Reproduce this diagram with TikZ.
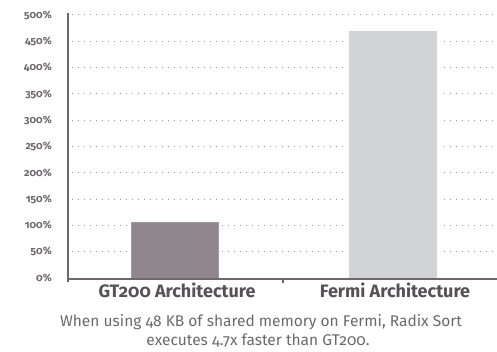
\documentclass[tikz,border=0pt]{standalone}
\usepackage{fontspec}
\setmainfont{Fira Sans}[Numbers=OldStyle]
\definecolor{axisc}{HTML}{6E666B}
\definecolor{labc}{HTML}{6E666B}
\definecolor{catc}{HTML}{575155}
\definecolor{capc}{HTML}{6A6A6A}
\definecolor{gridc}{HTML}{9A9A9A}
\definecolor{barA}{HTML}{8F878C}
\definecolor{barB}{HTML}{D2D3D5}
\tikzset{
  gridline/.style={gridc, line width=1pt, dash pattern=on 1pt off 5pt},
  ticklab/.style={anchor=east, text=labc, font=\bfseries\fontsize{10.5}{12}\selectfont, inner sep=0pt},
  catlab/.style={anchor=base, text=catc, font=\bfseries\fontsize{18}{20}\selectfont, inner sep=0pt},
  caplab/.style={anchor=base, text=capc, font=\fontsize{15.5}{19}\selectfont, inner sep=0pt},
  axisline/.style={axisc, line width=2pt},
}
\begin{document}
\begin{tikzpicture}[x=1pt,y=-1pt]
\useasboundingbox (0,0) rectangle (497,352);
% gridlines and tick labels
\foreach \v [count=\i from 0] in {0,50,100,150,200,250,300,350,400,450,500} {
  \pgfmathsetmacro{\yy}{278-26.3*\i}
  \ifnum\i>0
    \draw[gridline] (72,\yy) -- (495,\yy);
  \fi
  \node[ticklab] (t\i) at (52,\yy) {\v\%};
}
% bars
\fill[white] (128,221) rectangle (221,278);
\node[fill=barA, draw=barA!85!white, line width=0.5pt, inner sep=0pt, minimum width=87pt, minimum height=55pt, anchor=south west] (barA) at (131,278) {};
\fill[white] (346,28) rectangle (440,278);
\node[fill=barB, inner sep=0pt, minimum width=88pt, minimum height=247pt, anchor=south west] (barB) at (349,278) {};
% axes
\coordinate (o) at (67.5,282);
\coordinate (top) at (67.5,13);
\coordinate (bl) at (66.5,278.5);
\coordinate (br) at (497,278.5);
\coordinate (tk1) at (283,278.5);
\coordinate (tk2) at (283,282.5);
\draw[axisline] (o) -- (top);
\draw[axisline] (bl) -- (br);
\draw[axisc, line width=1.5pt] (tk1) -- (tk2);
% category labels
\node[catlab] (c1) at (177,297) {GT200 Architecture};
\node[catlab] (c2) at (395,297) {Fermi Architecture};
% caption
\node[caplab] (cap1) at (261,326) {When using 48 KB of shared memory on Fermi, Radix Sort};
\node[caplab] (cap2) at (258,345) {executes 4.7x faster than GT200.};
\end{tikzpicture}
\end{document}
